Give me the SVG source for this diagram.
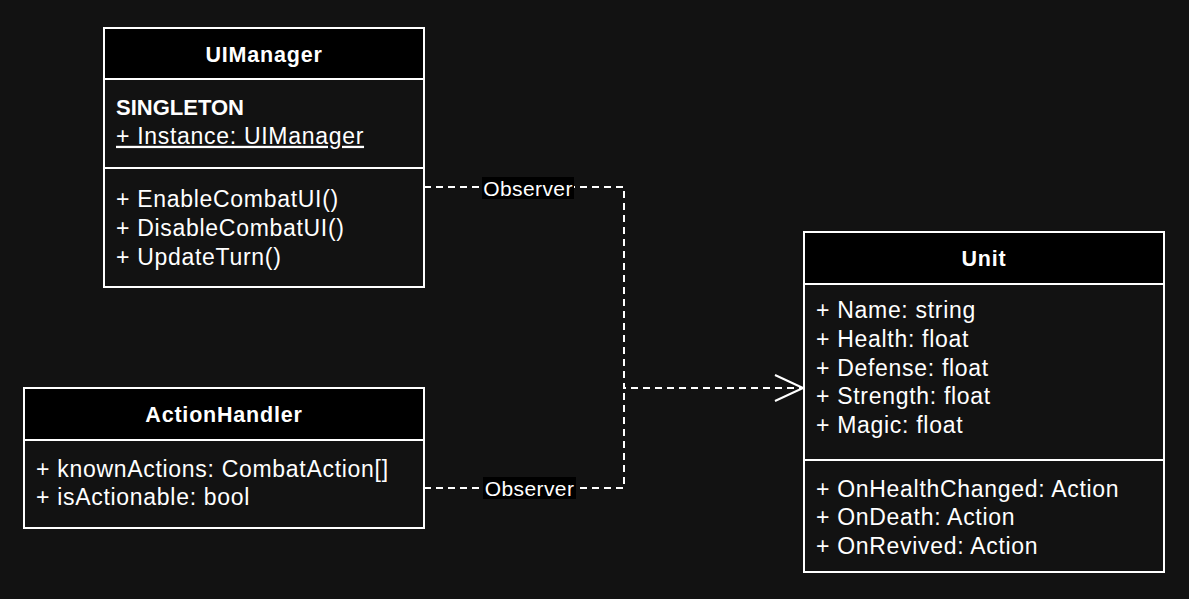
<svg xmlns="http://www.w3.org/2000/svg" width="1189" height="599" viewBox="0 0 1189 599">
<style>
.box{fill:#121212;stroke:#fff;stroke-width:2}
.hdr{fill:#000;stroke:#fff;stroke-width:2}
.sep{stroke:#fff;stroke-width:2}
.t{font-family:"Liberation Sans",Arial,sans-serif;fill:#fff}
.title{font-size:21.5px;font-weight:bold;text-anchor:middle;letter-spacing:0.8px}
.b{font-size:23px;letter-spacing:0.7px}
.bold{font-size:22px;font-weight:bold}
.edge{fill:none;stroke:#fff;stroke-width:2;stroke-dasharray:7 5}
.lbl{font-size:21px;text-anchor:middle;letter-spacing:0.4px}
</style>
<defs>
<marker id="open" viewBox="-30 -15 32 30" refX="0" refY="0" markerWidth="32" markerHeight="30" markerUnits="userSpaceOnUse" orient="auto">
<path d="M-28,-13 L0,0 L-28,13" fill="none" stroke="#fff" stroke-width="2" stroke-dasharray="none"/>
</marker>
</defs>
<rect x="0" y="0" width="1189" height="599" fill="#121212"/>
<g id="connectors">
<path class="edge" d="M424,187 L624,187 L624,388 L803,388" marker-end="url(#open)"/>
<path class="edge" d="M424,488 L624,488 L624,388"/>
<rect x="482" y="177" width="92" height="22" fill="#000"/>
<text class="t lbl" x="528" y="195.5">Observer</text>
<rect x="483" y="477" width="93" height="22" fill="#000"/>
<text class="t lbl" x="529.5" y="495.5">Observer</text>
</g>
<g id="UIManager">
<rect class="box" x="104" y="28" width="320" height="259"/>
<rect class="hdr" x="104" y="28" width="320" height="51"/>
<line class="sep" x1="104" y1="168" x2="424" y2="168"/>
<text class="t title" x="264" y="62">UIManager</text>
<text class="t bold" x="116" y="115">SINGLETON</text>
<text class="t b" x="116" y="143.8" text-decoration="underline">+ Instance: UIManager</text>
<text class="t b" x="116" y="207">+ EnableCombatUI()</text>
<text class="t b" x="116" y="235.8">+ DisableCombatUI()</text>
<text class="t b" x="116" y="264.6">+ UpdateTurn()</text>
</g>
<g id="ActionHandler">
<rect class="box" x="24" y="388" width="400" height="140"/>
<rect class="hdr" x="24" y="388" width="400" height="52"/>
<text class="t title" x="224" y="421.5">ActionHandler</text>
<text class="t b" x="36" y="476.5">+ knownActions: CombatAction[]</text>
<text class="t b" x="36" y="505.3">+ isActionable: bool</text>
</g>
<g id="Unit">
<rect class="box" x="804" y="232" width="360" height="340"/>
<rect class="hdr" x="804" y="232" width="360" height="52"/>
<line class="sep" x1="804" y1="460" x2="1164" y2="460"/>
<text class="t title" x="984" y="265.5">Unit</text>
<text class="t b" x="816" y="318">+ Name: string</text>
<text class="t b" x="816" y="346.8">+ Health: float</text>
<text class="t b" x="816" y="375.6">+ Defense: float</text>
<text class="t b" x="816" y="404.4">+ Strength: float</text>
<text class="t b" x="816" y="433.2">+ Magic: float</text>
<text class="t b" x="816" y="496.5">+ OnHealthChanged: Action</text>
<text class="t b" x="816" y="525.3">+ OnDeath: Action</text>
<text class="t b" x="816" y="554.1">+ OnRevived: Action</text>
</g>
</svg>
